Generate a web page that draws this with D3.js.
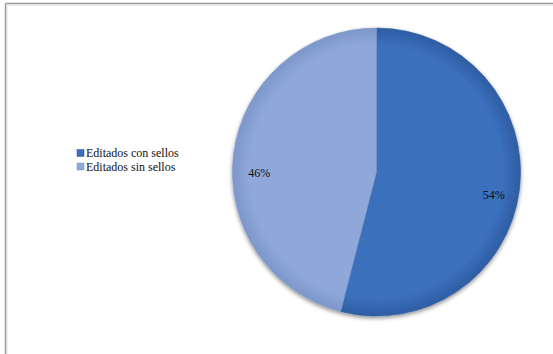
<!DOCTYPE html>
<html>
<head>
<meta charset="utf-8">
<script src="https://cdn.jsdelivr.net/npm/d3@7/dist/d3.min.js"></script>
<style>
  html, body { margin: 0; padding: 0; background: #fff; }
  svg { display: block; }
  text { font-family: "Liberation Serif", "DejaVu Serif", "Times New Roman", serif; }
</style>
</head>
<body>
<svg id="chart" width="553" height="354"></svg>
<script>
const categories = ["Editados con sellos", "Editados sin sellos"];
const values = [54, 46];
const labels = ["54%", "46%"];
const colors = ["#3b6fbc", "#8fa8d9"];
const edgeColors = ["#2e5da3", "#7d97cb"];

const svg = d3.select("#chart");
const W = 553, H = 354;

const cx = 376.5, cy = 172, r = 144;

const defs = svg.append("defs");
const shadow = defs.append("filter").attr("id", "shadow")
  .attr("x", "-20%").attr("y", "-20%").attr("width", "140%").attr("height", "140%");
shadow.append("feGaussianBlur").attr("in", "SourceAlpha").attr("stdDeviation", 2);
shadow.append("feOffset").attr("dx", 0).attr("dy", 1.5).attr("result", "b");
shadow.append("feComponentTransfer").append("feFuncA").attr("type", "linear").attr("slope", 0.45);
const merge = shadow.append("feMerge");
merge.append("feMergeNode");
merge.append("feMergeNode").attr("in", "SourceGraphic");

// radial shading shared by the whole pie (centred on the pie origin)
colors.forEach((c, i) => {
  const g = defs.append("radialGradient").attr("id", "grad" + i)
    .attr("gradientUnits", "userSpaceOnUse")
    .attr("cx", 0).attr("cy", 0).attr("r", r);
  g.append("stop").attr("offset", "0%").attr("stop-color", c);
  g.append("stop").attr("offset", "88%").attr("stop-color", c);
  g.append("stop").attr("offset", "100%").attr("stop-color", edgeColors[i]);
});

// frame lines (top and left)
svg.append("line").attr("x1", 5.5).attr("x2", W).attr("y1", 3.5).attr("y2", 3.5)
  .attr("stroke", "#9a9a9a").attr("stroke-width", 1.5);
svg.append("line").attr("x1", 5.5).attr("x2", 5.5).attr("y1", 3.5).attr("y2", H)
  .attr("stroke", "#9a9a9a").attr("stroke-width", 1.5);
svg.append("line").attr("x1", 7).attr("x2", W).attr("y1", 5).attr("y2", 5)
  .attr("stroke", "#dcdcdc").attr("stroke-width", 1);
svg.append("line").attr("x1", 7).attr("x2", 7).attr("y1", 5).attr("y2", H)
  .attr("stroke", "#dcdcdc").attr("stroke-width", 1);

const pie = d3.pie().sort(null).value(d => d);
const arcs = pie(values);
const arc = d3.arc().innerRadius(0).outerRadius(r);

const g = svg.append("g").attr("transform", `translate(${cx},${cy})`);
const sliceG = g.append("g").attr("filter", "url(#shadow)");
sliceG.selectAll("path").data(arcs).join("path")
  .attr("d", arc)
  .attr("fill", (d, i) => `url(#grad${i})`)
  .attr("stroke", (d, i) => edgeColors[i])
  .attr("stroke-width", 0.6);

// percentage labels, placed near the rim and nudged downward
const labelArc = d3.arc().innerRadius(r * 0.82).outerRadius(r * 0.82);
const nudge = [8, 16];
g.selectAll("text.pct").data(arcs).join("text")
  .attr("class", "pct")
  .attr("transform", (d, i) => {
    const [x, y] = labelArc.centroid(d);
    return `translate(${x},${y + nudge[i]})`;
  })
  .attr("text-anchor", "middle")
  .attr("dominant-baseline", "central")
  .attr("font-size", 12)
  .attr("fill", "#111")
  .text((d, i) => labels[i]);

// legend
const leg = svg.append("g").attr("transform", "translate(77,149)");
const item = leg.selectAll("g").data(categories).join("g")
  .attr("transform", (d, i) => `translate(0,${i * 13.5})`);
item.append("rect").attr("x", 0).attr("y", 0.5).attr("width", 7).attr("height", 7)
  .attr("fill", (d, i) => colors[i])
  .attr("stroke", (d, i) => edgeColors[i]).attr("stroke-width", 0.5);
item.append("text").attr("x", 9).attr("y", 4)
  .attr("dominant-baseline", "central")
  .attr("font-size", 12)
  .attr("fill", "#111")
  .text(d => d);
</script>
</body>
</html>
